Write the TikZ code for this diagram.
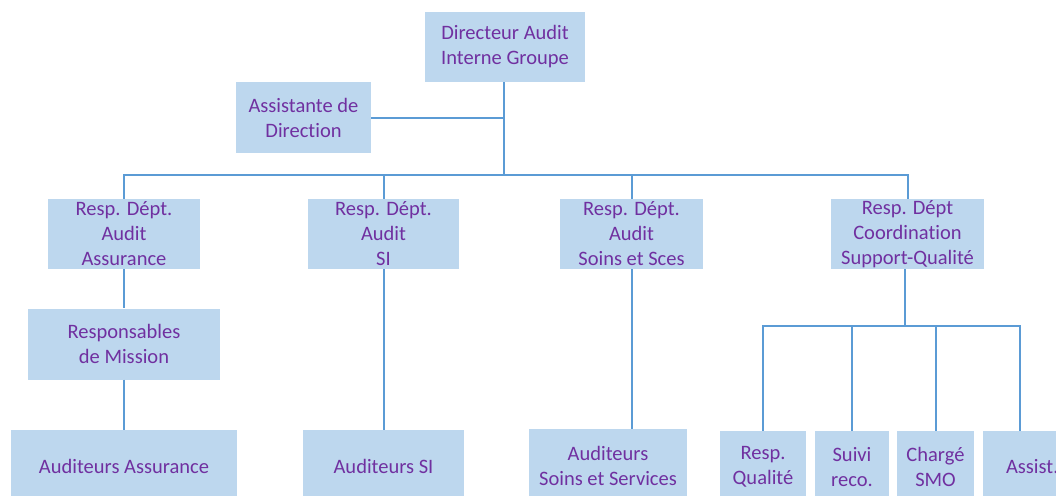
\documentclass[tikz,border=0pt]{standalone}
\usepackage{fontspec}
\setmainfont{Carlito}[Ligatures=NoCommon]
\definecolor{boxblue}{HTML}{BDD7EE}
\definecolor{linkblue}{HTML}{5B9BD5}
\definecolor{labelpurple}{HTML}{7030A0}
\begin{document}
\begin{tikzpicture}[x=1pt,y=-1pt,
  unit/.style={fill=boxblue, draw=none, inner sep=0pt, align=center,
    text=labelpurple, font=\fontsize{20.5}{25}\selectfont},
  link/.style={draw=linkblue, line width=2pt}]
\useasboundingbox (0,0) rectangle (1056,495);
\clip (0,0) rectangle (1056,495);
\fill[white] (0,0) rectangle (1056,495);

% top level
\node[unit, minimum width=160pt, minimum height=70pt] (dir) at (505,47) {Directeur Audit\\Interne Groupe};
\node[unit, minimum width=135pt, minimum height=71pt] (asst) at (303.5,117.5) {Assistante de\\Direction};

% departments
\node[unit, minimum width=152pt, minimum height=70pt] (d1) at (124,234) {Resp. Dépt.\\Audit\\Assurance};
\node[unit, minimum width=151pt, minimum height=70pt] (d2) at (383.5,234) {Resp. Dépt.\\Audit\\SI};
\node[unit, minimum width=143pt, minimum height=70pt] (d3) at (631.5,234) {Resp. Dépt.\\Audit\\Soins et Sces};
\node[unit, minimum width=153pt, minimum height=70pt] (d4) at (907.5,234) {Resp. Dépt\\Coordination\\Support-Qualité};

% second level
\node[unit, minimum width=192pt, minimum height=71pt] (mis) at (124,344) {Responsables\\de Mission};

% bottom row
\node[unit, minimum width=226pt, minimum height=72pt] (aa) at (124,466) {Auditeurs Assurance};
\node[unit, minimum width=161pt, minimum height=72pt] (asi) at (383.5,466) {Auditeurs SI};
\node[unit, minimum width=158pt, minimum height=74pt] (ass) at (608,466) {Auditeurs\\Soins et Services};
\node[unit, minimum width=86pt, minimum height=72pt] (rq) at (763,467) {Resp.\\Qualité};
\node[unit, minimum width=74pt, minimum height=72pt] (sr) at (852,467) {Suivi\\reco.};
\node[unit, minimum width=77pt, minimum height=72pt] (cs) at (935.5,467) {Chargé\\SMO};
\node[unit, minimum width=110pt, minimum height=72pt, text width=110pt, align=left] (as) at (1038,467) {\hspace*{23pt}Assist.};

% connectors
\coordinate (bus) at (504,175);
\coordinate (sub) at (905,326);
\path[link] (dir.south -| bus) -- (bus);
\path[link] (asst.east) -- (asst.east -| bus);
\path[link] (d1.north) |- (bus) -| (d4.north);
\path[link] (d2.north) -- (d2.north |- bus);
\path[link] (d3.north) -- (d3.north |- bus);
\path[link] (d1.south) -- (mis.north);
\path[link] (mis.south) -- (aa.north);
\path[link] (d2.south) -- (asi.north);
\path[link] (d3.south) -- (d3.south |- ass.north);
\path[link] (d4.south -| sub) -- (sub);
\path[link] (rq.north) |- (sub);
\path[link] (sr.north) -- (sr.north |- sub);
\path[link] (cs.north) -- (cs.north |- sub);
\path[link] (rq.north |- sub) -- (1020,326) -- (1020,431);
\end{tikzpicture}
\end{document}
